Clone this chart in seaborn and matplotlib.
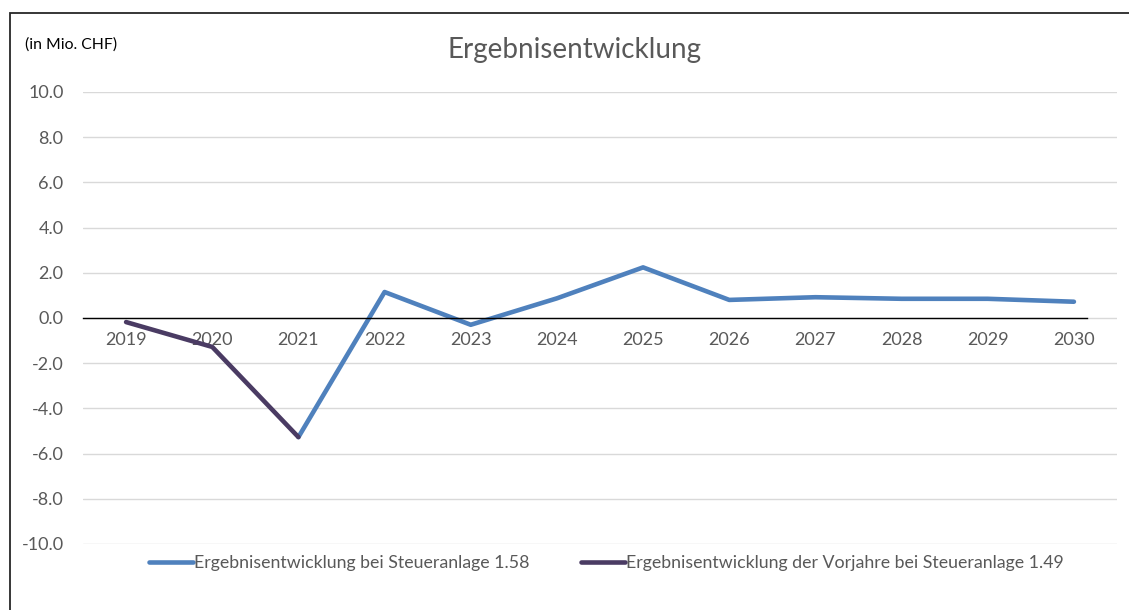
import pandas as pd
import seaborn as sns
import matplotlib

matplotlib.use("Agg")
import matplotlib.pyplot as plt
from matplotlib.patches import Rectangle

# data (in Mio. CHF)
years = [2019, 2020, 2021, 2022, 2023, 2024, 2025, 2026, 2027, 2028, 2029, 2030]
current_years = [2021, 2022, 2023, 2024, 2025, 2026, 2027, 2028, 2029, 2030]
current_values = [-5.27, 1.15, -0.3, 0.87, 2.24, 0.8, 0.92, 0.85, 0.85, 0.72]
previous_years = [2019, 2020, 2021]
previous_values = [-0.18, -1.28, -5.27]
y_ticks = [-10, -8, -6, -4, -2, 0, 2, 4, 6, 8, 10]

SERIES_CURRENT = "Ergebnisentwicklung bei Steueranlage 1.58"
SERIES_PREVIOUS = "Ergebnisentwicklung der Vorjahre bei Steueranlage 1.49"

_BLUE = "#4F81BD"
_PURPLE = "#4A3B63"
_TEXT = "#595959"
_GRID = "#D9D9D9"

sns.set_style("white")
plt.rcParams["font.family"] = ["Lato", "DejaVu Sans"]

long = pd.concat([
    pd.DataFrame({"year": previous_years, "value": previous_values, "series": SERIES_PREVIOUS}),
    pd.DataFrame({"year": current_years, "value": current_values, "series": SERIES_CURRENT}),
])

fig = plt.figure(figsize=(11.29, 6.10), dpi=100)
fig.set_facecolor("white")
ax = fig.add_axes([83 / 1129, 1 - 544 / 610, (1117 - 83) / 1129, 452 / 610])

sns.lineplot(
    data=long,
    x="year",
    y="value",
    hue="series",
    hue_order=[SERIES_CURRENT, SERIES_PREVIOUS],
    palette={SERIES_CURRENT: _BLUE, SERIES_PREVIOUS: _PURPLE},
    linewidth=3.3,
    ax=ax,
)
for line in ax.get_lines():
    line.set_solid_capstyle("round")
    line.set_solid_joinstyle("round")

ax.set_xlim(years[0] - 0.5, years[-1] + 0.5)
ax.set_ylim(-10, 10)
ax.set_xticks(years)
ax.set_xticklabels([str(y) for y in years])
ax.set_yticks(y_ticks)
ax.set_yticklabels([f"{v:.1f}" for v in y_ticks])
ax.grid(True, axis="y", color=_GRID, linewidth=1)
ax.set_axisbelow(True)
for side in ("top", "right", "left"):
    ax.spines[side].set_visible(False)
ax.spines["bottom"].set_position(("data", 0))
ax.spines["bottom"].set_color("black")
ax.spines["bottom"].set_linewidth(1)
ax.spines["bottom"].set_bounds(years[0] - 0.5, years[-1] + 0.15)
ax.tick_params(axis="x", length=0, pad=10, labelsize=13, labelcolor=_TEXT)
ax.tick_params(axis="y", length=0, pad=14, labelsize=13, labelcolor=_TEXT)
ax.set_xlabel("")
ax.set_ylabel("")

handles, labels = ax.get_legend_handles_labels()
ax.get_legend().remove()
leg = fig.legend(
    handles, labels, loc="center", bbox_to_anchor=(0.537, 1 - 563 / 610), ncol=2,
    frameon=False, fontsize=12.8, handlelength=2.5, handletextpad=0.05, columnspacing=2.9,
)
for text in leg.get_texts():
    text.set_color(_TEXT)

fig.text(575 / 1129, 1 - 50 / 610, "Ergebnisentwicklung", ha="center", va="center", fontsize=20, color=_TEXT)
fig.text(25 / 1129, 1 - 45 / 610, "(in Mio. CHF)", ha="left", va="center", fontsize=11.3, color="black")

# outer chart frame (left and top edges visible)
fig.patches.append(Rectangle((10 / 1129, -0.1), 1.2, 1 - 13 / 610 + 0.1, transform=fig.transFigure,
                             fill=False, edgecolor="#262626", linewidth=1.3))

fig.savefig("out.png", dpi=100, facecolor=fig.get_facecolor())
